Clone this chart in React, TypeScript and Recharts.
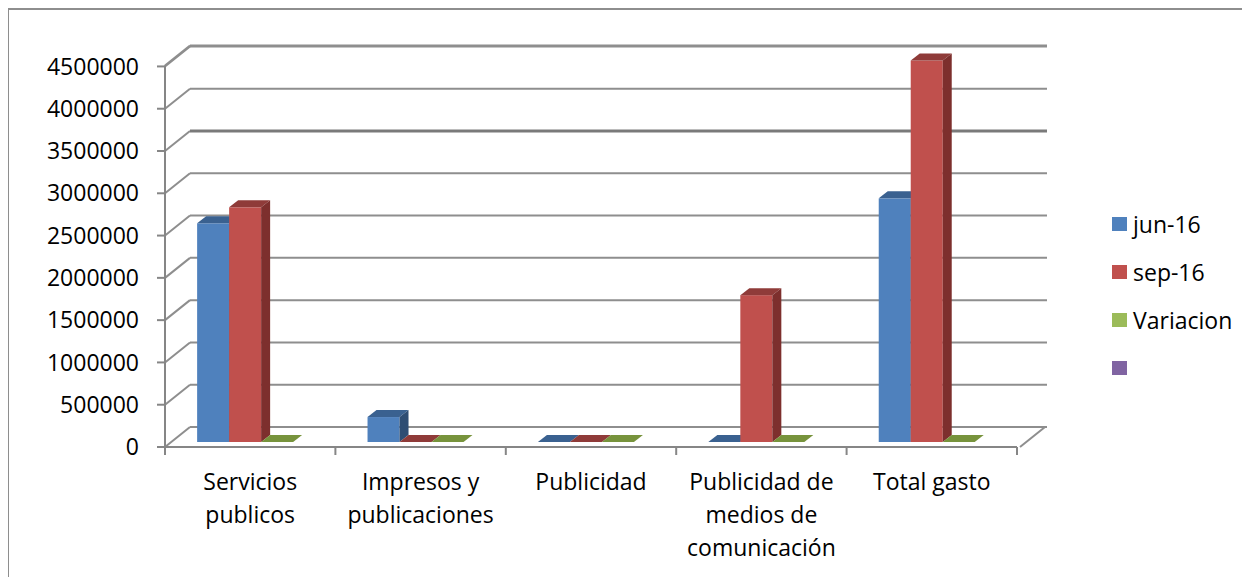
import React from 'react';
import { BarChart, Bar, XAxis, YAxis, CartesianGrid } from 'recharts';

// values
const categories = [
  'Servicios\npublicos',
  'Impresos y\npublicaciones',
  'Publicidad',
  'Publicidad de\nmedios de\ncomunicación',
  'Total gasto',
];
const jun16 = [2586000, 295000, 0, 0, 2881000];
const sep16 = [2775000, 0, 0, 1736000, 4511000];
const variacion = [0, 0, 0, 0, 0];
const yTicks = [0, 500000, 1000000, 1500000, 2000000, 2500000, 3000000, 3500000, 4000000, 4500000];

const series = [
  { key: 'jun', name: 'jun-16', color: '#4f81bd', top: '#3a6190', side: '#2e4d73' },
  { key: 'sep', name: 'sep-16', color: '#c0504d', top: '#8f3b39', side: '#7d2f2d' },
  { key: 'vari', name: 'Variacion', color: '#9bbb59', top: '#77933c', side: '#5f7a2e' },
  { key: 'blank', name: '', color: '#8064a2', top: '#5f4a7a', side: '#4d3c63' },
];

const data = categories.map((name, i) => ({
  name,
  jun: jun16[i],
  sep: sep16[i],
  vari: variacion[i],
}));

const FONT = '"Open Sans", sans-serif';
const AXIS = '#868686';
const GRID = '#8e8e8e';
const WALL_DX = 25;
const WALL_DY = 20;
const BAR_SHIFT_X = 11;
const BAR_SHIFT_Y = -5;
const DEPTH_X = 9;
const DEPTH_Y = 7;
const PLOT_LEFT = 157;
const PLOT_RIGHT = 1009;

const make3DBar = (s: typeof series[number]) => (props: any) => {
  const { x, y, width, height, payload } = props;
  if (!payload || payload[s.key] == null) return null;
  const fx = x + BAR_SHIFT_X;
  const fy = y + BAR_SHIFT_Y;
  const h = Math.max(height || 0, 0);
  return (
    <g>
      <rect x={fx} y={fy} width={width} height={h} fill={s.color} />
      <polygon
        points={`${fx},${fy} ${fx + DEPTH_X},${fy - DEPTH_Y} ${fx + width + DEPTH_X},${fy - DEPTH_Y} ${fx + width},${fy}`}
        fill={s.top}
      />
      {h > 0 && (
        <polygon
          points={`${fx + width},${fy} ${fx + width + DEPTH_X},${fy - DEPTH_Y} ${fx + width + DEPTH_X},${fy + h - DEPTH_Y} ${fx + width},${fy + h}`}
          fill={s.side}
        />
      )}
    </g>
  );
};

// gridline on the back wall with the diagonal on the side wall
const BackGridLine = (props: any) => {
  const { x1, x2, y1, index } = props;
  const bottom = Math.abs(y1 - 439) < 1;
  const heavy = Math.abs(y1 - 142.3) < 2;
  return (
    <g key={`g-${index}`}>
      <line x1={x1} y1={y1} x2={x1 + WALL_DX} y2={y1 - WALL_DY} stroke={GRID} strokeWidth={2} />
      <line
        x1={x1 + WALL_DX}
        y1={y1 - WALL_DY}
        x2={x2 + 30}
        y2={y1 - WALL_DY}
        stroke={heavy ? '#7a7a7a' : GRID}
        strokeWidth={heavy ? 3 : 2}
      />
      {bottom && (
        <line x1={x2 + 3} y1={y1} x2={x2 + 28} y2={y1 - WALL_DY} stroke={GRID} strokeWidth={2} />
      )}
    </g>
  );
};

const CategoryTick = (props: any) => {
  const { x, y, payload, index } = props;
  const band = (PLOT_RIGHT - PLOT_LEFT) / categories.length;
  const lines = String(payload.value).split('\n');
  return (
    <g>
      <line x1={x - band / 2} y1={y} x2={x - band / 2} y2={y + 8} stroke={AXIS} strokeWidth={2} />
      {index === categories.length - 1 && (
        <line x1={x + band / 2} y1={y} x2={x + band / 2} y2={y + 8} stroke={AXIS} strokeWidth={2} />
      )}
      <text textAnchor="middle" fill="#000" fontSize={23} fontFamily={FONT}>
        {lines.map((l, i) => (
          <tspan key={i} x={x} y={y + 43 + i * 33}>
            {l}
          </tspan>
        ))}
      </text>
    </g>
  );
};

const App: React.FC = () => {
  return (
    <div style={{ position: 'relative', width: 1242, height: 569, fontFamily: FONT }}>
      <div
        style={{
          position: 'absolute',
          left: -1,
          top: 0,
          width: 1243,
          height: 569,
          borderLeft: `2px solid ${GRID}`,
          borderTop: `2px solid ${GRID}`,
          boxSizing: 'border-box',
        }}
      />
      <BarChart
        width={1242}
        height={569}
        data={data}
        margin={{ top: 57.5, right: 1242 - PLOT_RIGHT, bottom: 30, left: 0 }}
        barGap={0}
        barCategoryGap="12.4%"
        style={{ position: 'absolute', left: 0, top: 0 }}
      >
        <CartesianGrid vertical={false} horizontal={BackGridLine} />
        <XAxis
          dataKey="name"
          height={100}
          tickLine={false}
          tickSize={0}
          tickMargin={0}
          axisLine={{ stroke: AXIS, strokeWidth: 2 }}
          tick={CategoryTick}
          interval={0}
        />
        <YAxis
          width={157}
          domain={[0, 4500000]}
          ticks={yTicks}
          interval={0}
          tickSize={8}
          tickMargin={18}
          tickLine={{ stroke: AXIS, strokeWidth: 2 }}
          axisLine={{ stroke: AXIS, strokeWidth: 2 }}
          tick={{ fill: '#000', fontSize: 23, fontFamily: FONT }}
        />
        {series.map(s => (
          <Bar
            key={s.key}
            dataKey={s.key}
            name={s.name}
            fill={s.color}
            shape={make3DBar(s)}
            isAnimationActive={false}
          />
        ))}
      </BarChart>
      <div style={{ position: 'absolute', left: 1104, top: 0 }}>
        {series.map((s, i) => (
          <div
            key={s.key}
            style={{
              position: 'absolute',
              top: 216 + i * 48 - 16,
              left: 0,
              height: 32,
              display: 'flex',
              alignItems: 'center',
              whiteSpace: 'nowrap',
              fontSize: 23,
              color: '#000',
            }}
          >
            <span style={{ display: 'inline-block', width: 15, height: 14, background: s.color, marginRight: 6 }} />
            <span>{s.name}</span>
          </div>
        ))}
      </div>
    </div>
  );
};

export default App;
